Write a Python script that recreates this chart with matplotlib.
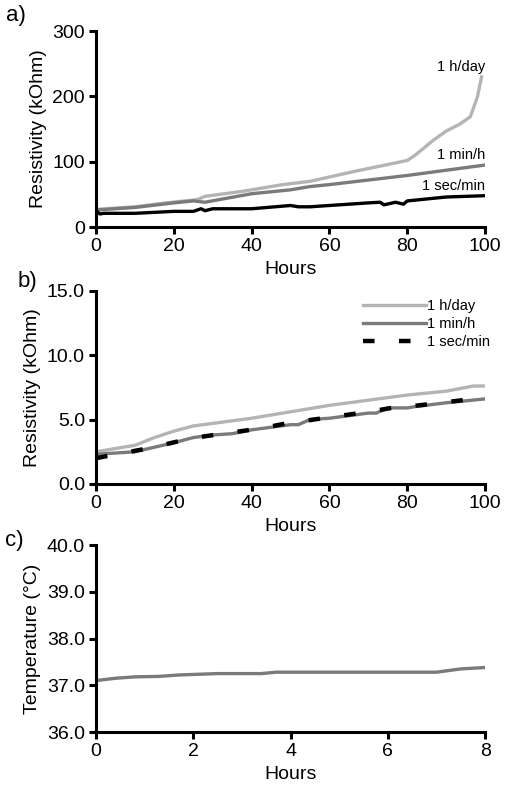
import matplotlib.pyplot as plt
import numpy as np

plt.rcParams['font.family'] = ['Liberation Sans', 'DejaVu Sans']

# panel a) resistivity, kOhm
a_hours_day = [0, 5, 10, 18, 26, 28, 38, 48, 55, 61, 67, 74, 80, 82, 86.7, 90, 93.6, 96.2, 98, 99.1]
a_day = [27, 29, 31, 37, 42, 47, 55, 65, 70, 78, 86, 94.5, 102, 110, 133, 147, 158, 169, 199, 230]
a_hours_min = [0, 10, 20, 25, 28, 40, 50, 55, 60, 70, 80, 90, 100]
a_min = [26, 30, 37, 40, 38, 51, 57, 62, 65, 72, 79, 87, 95]
a_hours_sec = [0, 1, 2, 10, 20, 25, 27, 28, 30, 40, 50, 52, 55, 60, 70, 73, 74, 77, 79, 80, 90, 100]
a_sec = [25, 20, 21, 21, 24, 24, 28, 25, 28, 28, 33, 31, 31, 33, 37, 38, 34, 38, 35, 40, 46, 48]

# panel b) resistivity, kOhm
b_hours_day = [0, 10, 15, 20, 25, 30, 40, 50, 60, 70, 80, 90, 97, 100]
b_day = [2.5, 3.0, 3.6, 4.1, 4.5, 4.7, 5.1, 5.6, 6.1, 6.5, 6.9, 7.2, 7.6, 7.6]
b_hours_min = [0, 10, 20, 25, 30, 35, 40, 50, 52, 55, 60, 70, 72, 75, 80, 82, 90, 100]
b_min = [2.3, 2.5, 3.2, 3.6, 3.8, 3.9, 4.2, 4.6, 4.6, 5.0, 5.1, 5.5, 5.5, 5.9, 5.9, 6.0, 6.3, 6.6]
b_hours_sec = [0, 7, 14, 21, 28, 35, 42, 49, 56, 63, 70, 76, 83, 90, 97, 100]
b_sec = [2.0, 2.4, 2.8, 3.3, 3.7, 4.0, 4.3, 4.7, 5.0, 5.3, 5.6, 5.9, 6.1, 6.35, 6.6, 6.65]

# panel c) temperature
c_hours = [0, 0.4, 0.8, 1.3, 1.7, 2.5, 3.4, 3.7, 7.0, 7.5, 8.0]
c_temp = [37.1, 37.15, 37.18, 37.19, 37.22, 37.25, 37.25, 37.28, 37.28, 37.35, 37.38]

labels = ['1 h/day', '1 min/h', '1 sec/min']
light = '#b4b4b4'
mid = '#7a7a7a'

fig = plt.figure(figsize=(5.08, 7.93), dpi=100)
ax_a = fig.add_axes([0.189, 0.7137, 0.766, 0.247])
ax_b = fig.add_axes([0.189, 0.3897, 0.766, 0.2438])
ax_c = fig.add_axes([0.189, 0.0769, 0.766, 0.2358])


def style(ax):
    for s in ['top', 'right']:
        ax.spines[s].set_visible(False)
    for s in ['left', 'bottom']:
        ax.spines[s].set_linewidth(2.2)
    ax.tick_params(direction='out', length=5, width=2.2, labelsize=14, pad=3)
    ax.set_xlabel('Hours', fontsize=14, labelpad=4)


ax_a.plot(a_hours_day, a_day, color=light, lw=2.4)
ax_a.plot(a_hours_min, a_min, color=mid, lw=2.4)
ax_a.plot(a_hours_sec, a_sec, color='black', lw=2.4)
ax_a.text(100, 245, labels[0], ha='right', va='center', fontsize=10.5)
ax_a.text(100, 110, labels[1], ha='right', va='center', fontsize=10.5)
ax_a.text(100, 63, labels[2], ha='right', va='center', fontsize=10.5)
ax_a.set_xlim(0, 100)
ax_a.set_ylim(0, 300)
ax_a.set_xticks(np.arange(0, 101, 20))
ax_a.set_yticks([0, 100, 200, 300])
ax_a.set_ylabel('Resistivity (kOhm)', fontsize=14)
style(ax_a)

ax_b.plot(b_hours_day, b_day, color=light, lw=2.4, label=labels[0])
ax_b.plot(b_hours_min, b_min, color=mid, lw=2.4, label=labels[1])
ax_b.plot(b_hours_sec, b_sec, color='black', lw=3.2, dashes=(2.6, 5.5), label=labels[2])
ax_b.set_xlim(0, 100)
ax_b.set_ylim(0, 15)
ax_b.set_xticks(np.arange(0, 101, 20))
ax_b.set_yticks([0, 5, 10, 15])
ax_b.set_yticklabels(['0.0', '5.0', '10.0', '15.0'])
ax_b.set_ylabel('Resistivity (kOhm)', fontsize=14)
ax_b.legend(loc='upper right', frameon=False, fontsize=10.5, handlelength=4.3,
            handletextpad=0.1, labelspacing=0.25, borderaxespad=0.2,
            bbox_to_anchor=(1.035, 1.0))
style(ax_b)

ax_c.plot(c_hours, c_temp, color=mid, lw=2.4)
ax_c.set_xlim(0, 8)
ax_c.set_ylim(36, 40)
ax_c.set_xticks(np.arange(0, 9, 2))
ax_c.set_yticks([36, 37, 38, 39, 40])
ax_c.set_yticklabels(['36.0', '37.0', '38.0', '39.0', '40.0'])
ax_c.set_ylabel('Temperature (°C)', fontsize=14)
style(ax_c)

fig.text(0.012, 0.98, 'a)', fontsize=16, va='center')
fig.text(0.035, 0.645, 'b)', fontsize=16, va='center')
fig.text(0.01, 0.318, 'c)', fontsize=16, va='center')

fig.savefig('out.png', dpi=100)
